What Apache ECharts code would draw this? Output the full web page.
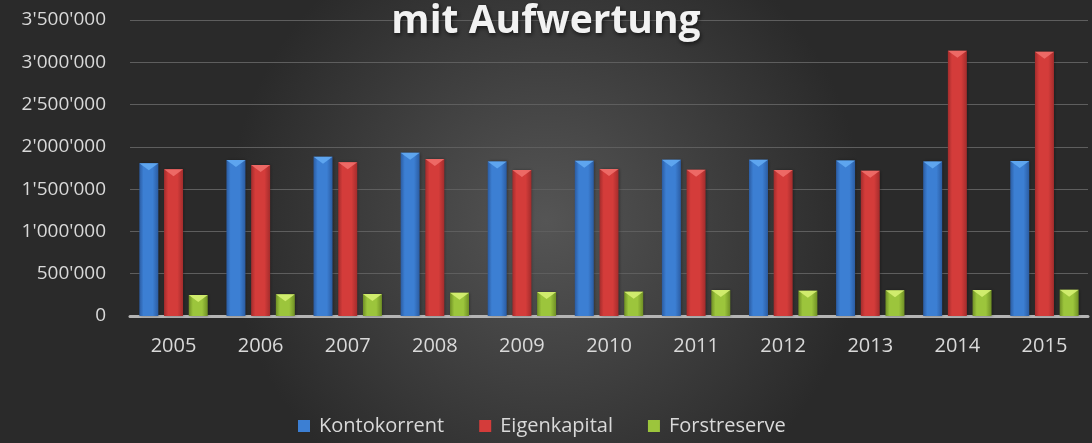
<!DOCTYPE html>
<html>
<head>
<meta charset="utf-8">
<script src="https://cdn.jsdelivr.net/npm/echarts@6/dist/echarts.min.js"></script>
<style>
html, body { margin: 0; padding: 0; background: #3a3a3a; }
#chart { width: 1092px; height: 443px; }
</style>
</head>
<body>
<div id="chart"></div>
<script>
// Jahre
var years = ['2005', '2006', '2007', '2008', '2009', '2010', '2011', '2012', '2013', '2014', '2015'];

// Werte pro Reihe
var kontokorrent = [1805000, 1844000, 1883000, 1930000, 1828000, 1836000, 1847000, 1847000, 1840000, 1828000, 1832000];
var eigenkapital = [1734000, 1785000, 1817000, 1856000, 1726000, 1738000, 1730000, 1726000, 1718000, 3136000, 3124000];
var forstreserve = [248000, 256000, 260000, 275000, 284000, 288000, 307000, 299000, 303000, 307000, 310000];

var seriesNames = ['Kontokorrent', 'Eigenkapital', 'Forstreserve'];

// Tausender mit Apostroph
var fmtCH = function (v) {
    return String(v).replace(/\B(?=(\d{3})+(?!\d))/g, "'");
};

// Balken mit Kanten (dunkle Ränder, helle Mitte)
var bevel = function (edge, mid) {
    return new echarts.graphic.LinearGradient(0, 0, 1, 0, [
        { offset: 0, color: edge },
        { offset: 0.22, color: mid },
        { offset: 0.7, color: mid },
        { offset: 1, color: edge }
    ]);
};

var colors = [
    { edge: '#2b5ca2', mid: '#3c7fd3', top: '#62aaf2' },
    { edge: '#a32c2c', mid: '#d43c3a', top: '#f06e6a' },
    { edge: '#6f8f25', mid: '#9cc53c', top: '#d6ef72' }
];

var makeBar = function (name, data, c) {
    return {
        name: name,
        type: 'bar',
        data: data,
        barWidth: 19,
        barGap: '30%',
        itemStyle: {
            color: bevel(c.edge, c.mid),
            shadowColor: 'rgba(0,0,0,0.35)',
            shadowBlur: 3,
            shadowOffsetX: 1
        }
    };
};

// helle Dreieck-Kante oben am Balken
var makeTop = function (name, data, c) {
    return {
        name: name,
        type: 'pictorialBar',
        data: data,
        barWidth: 19,
        barGap: '30%',
        symbol: 'path://M0,0 L2,0 L1,1 Z',
        symbolKeepAspect: false,
        symbolSize: [19, 7],
        symbolPosition: 'end',
        z: 3,
        itemStyle: { color: c.top, opacity: 0.9 }
    };
};

var chart = echarts.init(document.getElementById('chart'));
chart.setOption({
    animation: false,
    backgroundColor: new echarts.graphic.RadialGradient(0.5, 0.5, 0.72, [
        { offset: 0, color: '#555555' },
        { offset: 1, color: '#2a2a2a' }
    ]),
    title: {
        text: 'mit Aufwertung',
        left: 'center',
        top: -3,
        textStyle: {
            color: '#f2f2f2',
            fontFamily: 'Open Sans',
            fontWeight: 'bold',
            fontSize: 39,
            textShadowColor: 'rgba(0,0,0,0.6)',
            textShadowBlur: 4,
            textShadowOffsetX: 1,
            textShadowOffsetY: 2
        }
    },
    legend: {
        data: seriesNames.map(function (n, i) {
            return { name: n, itemStyle: { color: colors[i].mid } };
        }),
        bottom: 2,
        left: 293,
        icon: 'rect',
        itemWidth: 12,
        itemHeight: 12,
        itemGap: 35,
        textStyle: { color: '#d9d9d9', fontFamily: 'Open Sans', fontSize: 20, padding: [0, 0, 0, 4] }
    },
    grid: { left: 130, right: 4, top: 20, bottom: 127, containLabel: false },
    xAxis: {
        type: 'category',
        data: years,
        axisLine: { show: true, lineStyle: { color: '#b5b5b5', width: 3 } },
        axisTick: { show: false },
        axisLabel: { color: '#d9d9d9', fontFamily: 'Open Sans', fontSize: 20, margin: 20 }
    },
    yAxis: {
        type: 'value',
        min: 0,
        max: 3500000,
        interval: 500000,
        axisLine: { show: false },
        axisTick: { show: false },
        splitLine: { lineStyle: { color: '#5e5e5e', width: 1 } },
        axisLabel: {
            color: '#d9d9d9',
            fontFamily: 'Open Sans',
            fontSize: 19,
            margin: 24,
            formatter: fmtCH
        }
    },
    series: [
        makeBar(seriesNames[0], kontokorrent, colors[0]),
        makeBar(seriesNames[1], eigenkapital, colors[1]),
        makeBar(seriesNames[2], forstreserve, colors[2]),
        makeTop(seriesNames[0], kontokorrent, colors[0]),
        makeTop(seriesNames[1], eigenkapital, colors[1]),
        makeTop(seriesNames[2], forstreserve, colors[2])
    ]
});
</script>
</body>
</html>
